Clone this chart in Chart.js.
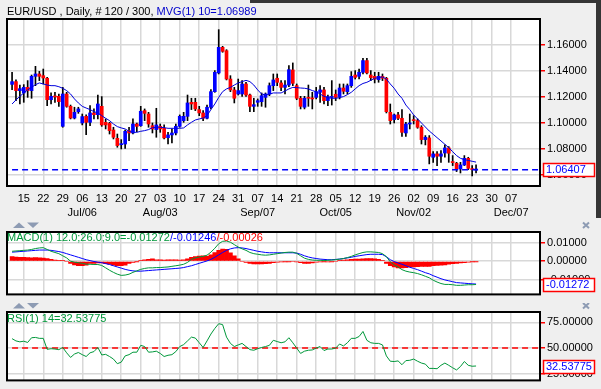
<!DOCTYPE html>
<html>
<head>
<meta charset="utf-8">
<script src="https://cdn.jsdelivr.net/npm/chart.js@4.4.1/dist/chart.umd.min.js"></script>
<style>
html,body{margin:0;padding:0;background:#efefef;}
#wrap{position:relative;width:601px;height:389px;overflow:hidden;background:#efefef;}
#wrap canvas{position:absolute;left:0;}
</style>
</head>
<body>
<div id="wrap">
<canvas id="cPrice" width="601" height="220" style="top:0px;width:601px;height:220px"></canvas>
<canvas id="cMacd" width="601" height="83" style="top:220px;width:601px;height:83px"></canvas>
<canvas id="cRsi" width="601" height="86" style="top:303px;width:601px;height:86px"></canvas>
</div>
<script>
// ---------- DATA ----------
const dayLabels = ['15','22','29','06','13','20','27','03','10','17','24','31','07','14','21','28','05','12','19','26','02','09','16','23','30','07'];
const monthLabels = ['','','','Jul/06','','','','Aug/03','','','','','Sep/07','','','','Oct/05','','','','Nov/02','','','','','Dec/07'];

const opens = [1.1297,1.1318,1.1249,1.1231,1.1274,1.1249,1.1359,1.1377,1.1364,1.1344,
1.1179,1.1205,1.1205,1.0974,1.1223,1.1128,1.1038,1.1087,1.1000,1.1051,
1.1005,1.1077,1.1064,1.1128,1.1005,1.0997,1.0946,1.0882,1.0833,1.0838,
1.0941,1.0923,1.0992,1.0979,1.1095,1.1069,1.0979,1.0949,1.0974,1.0959,
1.0887,1.0908,1.0923,1.0974,1.1018,1.1051,1.1159,1.1159,1.1103,1.1077,
1.1036,1.1121,1.1241,1.1385,1.1582,1.1556,1.1338,1.1254,1.1223,1.1223,
1.1300,1.1215,1.1128,1.1159,1.1164,1.1197,1.1223,1.1287,1.1344,1.1308,
1.1274,1.1292,1.1408,1.1287,1.1190,1.1121,1.1194,1.1190,1.1197,1.1236,
1.1254,1.1172,1.1197,1.1221,1.1203,1.1269,1.1241,1.1287,1.1369,1.1359,
1.1390,1.1480,1.1369,1.1359,1.1333,1.1359,1.1344,1.1082,1.1026,1.1062,
1.1036,1.0923,1.0992,1.1021,1.1018,1.0967,1.0872,1.0885,1.0736,1.0762,
1.0744,1.0769,1.0808,1.0703,1.0690,1.0646,1.0677,1.0728,1.0646,1.0638];

const highs = [1.1390,1.1331,1.1292,1.1295,1.1326,1.1369,1.1436,1.1397,1.1415,1.1351,
1.1231,1.1236,1.1223,1.1274,1.1236,1.1138,1.1121,1.1121,1.1069,1.1062,
1.1133,1.1108,1.1215,1.1203,1.1031,1.1005,1.0967,1.0915,1.0872,1.0946,
1.0967,1.1031,1.1000,1.1128,1.1108,1.1082,1.1000,1.1113,1.0992,1.0985,
1.0928,1.0954,1.0992,1.1062,1.1082,1.1215,1.1190,1.1190,1.1128,1.1095,
1.1138,1.1256,1.1403,1.1718,1.1590,1.1564,1.1364,1.1274,1.1338,1.1326,
1.1313,1.1223,1.1190,1.1185,1.1231,1.1231,1.1308,1.1377,1.1377,1.1326,
1.1326,1.1441,1.1462,1.1300,1.1205,1.1205,1.1292,1.1236,1.1274,1.1287,
1.1274,1.1215,1.1326,1.1254,1.1300,1.1300,1.1300,1.1395,1.1403,1.1415,
1.1497,1.1497,1.1403,1.1390,1.1390,1.1377,1.1351,1.1146,1.1069,1.1082,
1.1103,1.1005,1.1069,1.1056,1.1031,1.0979,1.0903,1.0903,1.0780,1.0780,
1.0787,1.0831,1.0818,1.0749,1.0697,1.0697,1.0749,1.0736,1.0672,1.0677];

const lows = [1.1256,1.1172,1.1146,1.1159,1.1197,1.1190,1.1287,1.1326,1.1300,1.1133,
1.1146,1.1159,1.1128,1.0967,1.1121,1.1031,1.1031,1.1074,1.0985,1.0910,
1.0979,1.1031,1.1031,1.0974,1.0954,1.0915,1.0877,1.0813,1.0800,1.0805,
1.0864,1.0915,1.0933,1.0974,1.1018,1.0967,1.0923,1.0890,1.0928,1.0877,
1.0838,1.0846,1.0908,1.0967,1.1005,1.1018,1.1103,1.1095,1.1056,1.1018,
1.1031,1.1108,1.1236,1.1377,1.1544,1.1331,1.1241,1.1154,1.1215,1.1205,
1.1205,1.1087,1.1087,1.1128,1.1128,1.1121,1.1210,1.1249,1.1287,1.1249,
1.1223,1.1279,1.1287,1.1179,1.1108,1.1108,1.1128,1.1108,1.1185,1.1159,
1.1146,1.1133,1.1138,1.1172,1.1185,1.1223,1.1223,1.1274,1.1338,1.1338,
1.1377,1.1377,1.1326,1.1308,1.1313,1.1326,1.1077,1.0992,1.1000,1.1026,
1.0897,1.0897,1.0954,1.0992,1.0959,1.0838,1.0831,1.0685,1.0697,1.0672,
1.0697,1.0736,1.0697,1.0672,1.0626,1.0615,1.0672,1.0641,1.0592,1.0615];

const closes = [1.1318,1.1249,1.1264,1.1274,1.1249,1.1359,1.1377,1.1359,1.1346,1.1179,
1.1205,1.1200,1.1164,1.1223,1.1128,1.1038,1.1082,1.1108,1.1049,1.1005,
1.1077,1.1064,1.1146,1.0985,1.0985,1.0941,1.0890,1.0826,1.0838,1.0936,
1.0923,1.0992,1.0974,1.1090,1.1074,1.0992,1.0954,1.0985,1.0954,1.0885,
1.0908,1.0923,1.0974,1.1051,1.1051,1.1154,1.1146,1.1108,1.1077,1.1036,
1.1121,1.1241,1.1390,1.1582,1.1551,1.1338,1.1254,1.1190,1.1249,1.1300,
1.1215,1.1128,1.1141,1.1172,1.1210,1.1223,1.1287,1.1331,1.1313,1.1274,
1.1292,1.1410,1.1305,1.1190,1.1128,1.1190,1.1190,1.1185,1.1241,1.1254,
1.1172,1.1203,1.1200,1.1197,1.1269,1.1244,1.1287,1.1359,1.1351,1.1390,
1.1480,1.1385,1.1349,1.1338,1.1359,1.1344,1.1087,1.1018,1.1062,1.1036,
1.0928,1.0992,1.1000,1.1018,1.0967,1.0872,1.0890,1.0744,1.0762,1.0744,
1.0762,1.0808,1.0767,1.0695,1.0646,1.0677,1.0728,1.0651,1.0641,1.06407];

const ma10 = [1.1146,1.1177,1.1205,1.1231,1.1254,1.1274,1.1295,1.1308,1.1300,1.1292,
1.1287,1.1287,1.1279,1.1267,1.1249,1.1223,1.1185,1.1154,1.1128,1.1115,
1.1103,1.1087,1.1077,1.1056,1.1036,1.1018,1.0992,1.0972,1.0962,1.0954,
1.0936,1.0928,1.0928,1.0936,1.0941,1.0949,1.0964,1.0967,1.0967,1.0964,
1.0959,1.0959,1.0959,1.0959,1.0962,1.0985,1.1005,1.1023,1.1031,1.1038,
1.1056,1.1103,1.1146,1.1197,1.1241,1.1262,1.1274,1.1292,1.1308,1.1318,
1.1328,1.1318,1.1292,1.1254,1.1223,1.1215,1.1221,1.1231,1.1231,1.1231,
1.1246,1.1262,1.1274,1.1272,1.1269,1.1267,1.1262,1.1249,1.1241,1.1223,
1.1205,1.1195,1.1190,1.1190,1.1195,1.1203,1.1218,1.1236,1.1262,1.1287,
1.1304,1.1313,1.1328,1.1344,1.1349,1.1354,1.1338,1.1300,1.1267,1.1223,
1.1190,1.1138,1.1103,1.1062,1.1031,1.1000,1.0969,1.0938,1.0913,1.0887,
1.0862,1.0836,1.0810,1.0779,1.0749,1.0728,1.0718,1.0712,1.0705,1.06989];

const macdLine = [0.00543,0.00560,0.00576,0.00593,0.00609,0.00642,0.00691,0.00724,0.00741,0.00642,
0.00543,0.00477,0.00412,0.00296,0.00181,0.00000,-0.00049,-0.00082,-0.00115,-0.00165,
-0.00165,-0.00181,-0.00181,-0.00230,-0.00362,-0.00494,-0.00609,-0.00708,-0.00774,-0.00757,
-0.00708,-0.00609,-0.00527,-0.00444,-0.00395,-0.00362,-0.00362,-0.00346,-0.00346,-0.00329,
-0.00313,-0.00280,-0.00247,-0.00214,-0.00165,-0.00066,0.00099,0.00181,0.00230,0.00263,
0.00329,0.00494,0.00708,0.00955,0.01086,0.01103,0.01037,0.00905,0.00774,0.00675,
0.00593,0.00477,0.00412,0.00379,0.00346,0.00329,0.00346,0.00379,0.00412,0.00444,
0.00477,0.00494,0.00494,0.00428,0.00296,0.00165,0.00099,0.00066,0.00049,0.00049,
0.00033,0.00049,0.00066,0.00082,0.00115,0.00148,0.00198,0.00263,0.00346,0.00412,
0.00477,0.00510,0.00510,0.00494,0.00477,0.00412,0.00247,-0.00033,-0.00198,-0.00313,
-0.00461,-0.00543,-0.00593,-0.00626,-0.00675,-0.00741,-0.00823,-0.00905,-0.01037,-0.01136,
-0.01218,-0.01267,-0.01267,-0.01284,-0.01317,-0.01317,-0.01300,-0.01284,-0.01284,-0.01272];

const signalLine = [0.00494,0.00510,0.00527,0.00543,0.00560,0.00576,0.00593,0.00609,0.00609,0.00609,
0.00593,0.00560,0.00527,0.00477,0.00412,0.00346,0.00280,0.00214,0.00148,0.00082,
0.00033,-0.00016,-0.00049,-0.00082,-0.00132,-0.00181,-0.00247,-0.00313,-0.00379,-0.00444,
-0.00494,-0.00527,-0.00543,-0.00543,-0.00527,-0.00510,-0.00494,-0.00477,-0.00461,-0.00444,
-0.00428,-0.00412,-0.00395,-0.00379,-0.00346,-0.00296,-0.00247,-0.00181,-0.00115,-0.00049,
0.00016,0.00099,0.00214,0.00346,0.00477,0.00593,0.00675,0.00724,0.00741,0.00724,
0.00691,0.00642,0.00593,0.00543,0.00510,0.00477,0.00461,0.00461,0.00461,0.00461,
0.00461,0.00461,0.00461,0.00444,0.00379,0.00296,0.00230,0.00181,0.00148,0.00115,
0.00099,0.00082,0.00082,0.00099,0.00115,0.00148,0.00181,0.00214,0.00263,0.00296,
0.00329,0.00362,0.00379,0.00379,0.00379,0.00362,0.00247,0.00082,-0.00016,-0.00099,
-0.00165,-0.00247,-0.00329,-0.00395,-0.00461,-0.00543,-0.00626,-0.00691,-0.00790,-0.00872,
-0.00955,-0.01021,-0.01070,-0.01119,-0.01169,-0.01185,-0.01202,-0.01218,-0.01235,-0.01246];

const macdHist = [0.00247,0.00230,0.00214,0.00214,0.00198,0.00181,0.00198,0.00181,0.00165,0.00148,
0.00099,0.00066,0.00049,0.00033,0.00000,-0.00115,-0.00198,-0.00247,-0.00247,-0.00214,
-0.00115,-0.00115,-0.00099,-0.00099,-0.00132,-0.00165,-0.00214,-0.00247,-0.00247,-0.00214,
-0.00115,-0.00066,-0.00016,0.00049,0.00082,0.00099,0.00132,0.00082,0.00082,0.00066,
0.00082,0.00082,0.00082,0.00066,0.00082,0.00132,0.00214,0.00247,0.00280,0.00296,
0.00263,0.00346,0.00477,0.00593,0.00658,0.00642,0.00461,0.00296,0.00132,0.00000,
-0.00066,-0.00115,-0.00148,-0.00148,-0.00148,-0.00132,-0.00115,-0.00082,-0.00049,-0.00033,
-0.00016,-0.00016,0.00000,-0.00033,-0.00082,-0.00115,-0.00115,-0.00099,-0.00049,-0.00033,
-0.00016,-0.00033,-0.00016,0.00000,0.00049,0.00066,0.00082,0.00099,0.00115,0.00115,
0.00132,0.00148,0.00148,0.00132,0.00099,0.00049,-0.00115,-0.00247,-0.00313,-0.00362,
-0.00362,-0.00346,-0.00313,-0.00313,-0.00296,-0.00280,-0.00280,-0.00280,-0.00247,-0.00230,
-0.00214,-0.00198,-0.00165,-0.00132,-0.00115,-0.00099,-0.00082,-0.00049,-0.00016,-0.00026];

const rsi14 = [59.2,57.0,56.1,56.7,55.5,60.1,60.4,59.5,59.5,48.8,
49.4,49.1,48.5,50.6,45.4,40.9,44.2,45.7,43.6,41.8,
45.4,46.6,50.6,43.3,43.9,41.8,39.3,34.8,36.3,42.4,
43.6,46.0,46.0,52.7,51.5,46.0,46.3,47.0,44.8,41.8,
43.0,43.6,46.6,51.5,53.4,57.0,60.7,59.8,55.2,50.6,
57.0,63.7,69.2,73.8,72.9,60.7,54.6,51.5,53.1,54.6,
51.5,48.5,47.9,49.4,50.6,51.5,52.7,57.6,56.4,55.2,
56.1,60.1,55.2,50.0,44.8,47.0,47.9,48.2,50.0,51.5,
47.6,49.1,49.1,50.0,54.0,52.1,55.2,59.5,59.5,61.3,
66.2,57.6,55.2,54.6,54.6,53.1,42.4,37.2,36.9,37.5,
33.8,37.8,38.1,39.3,37.2,35.4,34.4,30.2,30.2,29.9,
33.2,35.4,33.2,30.8,28.7,32.0,36.9,33.2,32.3,32.53775];

const priceTicks = [1.06,1.08,1.10,1.12,1.14,1.16];
const macdTicks = [-0.01,0,0.01];
const rsiTicks = [25,50,75];
const rsiLevel = 50;

// ---------- STYLE / LAYOUT ----------
const FONT = "'Liberation Sans', Arial, sans-serif";
const BG = '#efefef', GRID = '#d8d8d8';
const BLUE = '#0000ff', RED = '#ff0000', GREEN = '#00983a';
const X_MIN = -1.3, X_MAX = 135.4;
const tickBars = dayLabels.map((d,k)=>3+5*k);
const last = closes.length-1;
const idx = closes.map((c,i)=>i);

Chart.defaults.font.family = FONT;
Chart.defaults.font.size = 11;
Chart.defaults.color = '#000';

function xScale(showLabels, h){
  return {
    type:'linear', min:X_MIN, max:X_MAX, offset:false,
    afterBuildTicks:s=>{ s.ticks = tickBars.map(v=>({value:v})); },
    afterFit:s=>{ s.height = h; },
    grid:{color:GRID, lineWidth:1.5, drawTicks:false, offset:false},
    border:{display:false},
    ticks:{display:showLabels, autoSkip:false, maxRotation:0, minRotation:0, padding:5, color:'#000',
      font:{family:FONT, size:11, lineHeight:1.36},
      callback:(v,i)=>[dayLabels[i], monthLabels[i]]}
  };
}
function yScale(min,max,ticks,fmt){
  return {
    position:'right', min:min, max:max,
    afterBuildTicks:s=>{ s.ticks = ticks.map(v=>({value:v})); },
    afterFit:s=>{ s.width = 61; },
    grid:{color:GRID, lineWidth:1.5, tickColor:RED, tickLength:5, tickWidth:1.5, drawTicks:true},
    border:{display:false},
    ticks:{padding:2, color:'#000', font:{family:FONT, size:11}, callback:fmt}
  };
}

const framePlugin = {
  id:'frame',
  beforeDraw(chart){
    const {ctx, chartArea:a} = chart;
    ctx.save();
    ctx.fillStyle = BG; ctx.fillRect(0,0,chart.width,chart.height);
    ctx.fillStyle = '#fff'; ctx.fillRect(a.left,a.top,a.right-a.left,a.bottom-a.top);
    ctx.restore();
  },
  afterDatasetsDraw(chart){
    const {ctx, chartArea:a} = chart;
    ctx.save(); ctx.strokeStyle='#000'; ctx.lineWidth=2;
    ctx.strokeRect(a.left, a.top, a.right-a.left, a.bottom-a.top);
    ctx.restore();
  }
};

function valueBox(chart, val, text){
  const ctx = chart.ctx, y = chart.scales.y.getPixelForValue(val), x = chart.chartArea.right + 3;
  const top = Math.round(y - 6.5);
  ctx.save();
  ctx.fillStyle = '#fff'; ctx.fillRect(x, top, 51, 13);
  ctx.strokeStyle = RED; ctx.lineWidth = 1.5; ctx.strokeRect(x+0.5, top+0.5, 51, 13);
  ctx.fillStyle = BLUE; ctx.font = '11px ' + FONT; ctx.textBaseline = 'middle'; ctx.textAlign='left';
  ctx.fillText(text, x + 3, top + 7);
  ctx.restore();
}
function drawParts(ctx, x, y, parts){
  ctx.save(); ctx.font = '11px ' + FONT; ctx.textBaseline='middle'; ctx.textAlign='left';
  parts.forEach(p=>{ ctx.fillStyle = p[1]; ctx.fillText(p[0], x, y); x += ctx.measureText(p[0]).width; });
  ctx.restore();
}
function drawArrows(ctx, y){
  ctx.save(); ctx.fillStyle = '#8d9bb3';
  ctx.beginPath(); ctx.moveTo(13,y+5.5); ctx.lineTo(19,y); ctx.lineTo(25,y+5.5); ctx.closePath(); ctx.fill();
  ctx.beginPath(); ctx.moveTo(27,y); ctx.lineTo(39,y); ctx.lineTo(33,y+5.5); ctx.closePath(); ctx.fill();
  ctx.strokeStyle = '#8d9bb3'; ctx.lineWidth = 2;
  ctx.beginPath(); ctx.moveTo(583,y); ctx.lineTo(589,y+5.5); ctx.moveTo(589,y); ctx.lineTo(583,y+5.5); ctx.stroke();
  ctx.restore();
}

const common = {responsive:false, animation:false, events:[], plugins:{legend:{display:false}, tooltip:{enabled:false}}};

// ---------- PRICE ----------
new Chart(document.getElementById('cPrice'), {
  type:'bar',
  data:{datasets:[
    {type:'line', data:idx.map(i=>({x:i,y:ma10[i]})), borderColor:'#0000dd', borderWidth:1, pointRadius:0, tension:0, order:0},
    {type:'line', data:[{x:0,y:closes[last]},{x:X_MAX,y:closes[last]}], borderColor:BLUE, borderWidth:1.5, borderDash:[6,4], pointRadius:0, order:1},
    {type:'bar', data:idx.map(i=>({x:i,y:[opens[i],closes[i]]})), backgroundColor:idx.map(i=>closes[i]>=opens[i]?BLUE:RED),
      barThickness:3, minBarLength:1, grouped:false, order:2},
    {type:'bar', data:idx.map(i=>({x:i,y:[lows[i],highs[i]]})), backgroundColor:'#000', barThickness:1, grouped:false, order:3}
  ]},
  options:Object.assign({}, common, {
    layout:{padding:{left:7, top:19, right:0, bottom:0}},
    scales:{ x:xScale(true, 34), y:yScale(1.0515, 1.18, priceTicks, v=>v.toFixed(5)) }
  }),
  plugins:[framePlugin, {id:'ptxt', afterDraw(chart){
    const ctx = chart.ctx;
    ctx.save(); ctx.fillStyle = '#353535';
    ctx.fillRect(250, 0, 351, 3);
    ctx.fillRect(596, 0, 5, 218);
    ctx.restore();
    drawParts(ctx, 7, 12, [['EUR/USD , Daily, # 120 / 300, ','#000'],['MVG(1) 10='+ma10[last].toFixed(5), '#0000cc']]);
    valueBox(chart, closes[last], closes[last].toFixed(5));
  }}]
});

// ---------- MACD ----------
new Chart(document.getElementById('cMacd'), {
  type:'bar',
  data:{datasets:[
    {type:'line', data:idx.map(i=>({x:i,y:macdLine[i]})), borderColor:GREEN, borderWidth:1, pointRadius:0, tension:0, order:0},
    {type:'line', data:idx.map(i=>({x:i,y:signalLine[i]})), borderColor:BLUE, borderWidth:1, pointRadius:0, tension:0, order:1},
    {type:'bar', data:idx.map(i=>({x:i,y:macdHist[i]})), backgroundColor:RED, barThickness:4, grouped:false, order:2}
  ]},
  options:Object.assign({}, common, {
    layout:{padding:{left:7, top:12, right:0, bottom:0}},
    scales:{ x:xScale(false, 2), y:yScale(-0.01812, 0.01595, macdTicks, v=>v.toFixed(5)) }
  }),
  plugins:[framePlugin, {id:'mtxt', afterDraw(chart){
    drawParts(chart.ctx, 7, 18, [['MACD(1) 12.0;26.0;9.0='+macdLine[last].toFixed(5), GREEN],['/'+signalLine[last].toFixed(5), BLUE],['/'+macdHist[last].toFixed(5), RED]]);
    valueBox(chart, macdLine[last], macdLine[last].toFixed(5));
    drawArrows(chart.ctx, 2.5);
  }}]
});

// ---------- RSI ----------
new Chart(document.getElementById('cRsi'), {
  type:'line',
  data:{datasets:[
    {data:idx.map(i=>({x:i,y:rsi14[i]})), borderColor:GREEN, borderWidth:1, pointRadius:0, tension:0, order:0},
    {data:[{x:0,y:rsiLevel},{x:X_MAX,y:rsiLevel}], borderColor:RED, borderWidth:1.5, borderDash:[6,4], pointRadius:0, order:1}
  ]},
  options:Object.assign({}, common, {
    layout:{padding:{left:7, top:9, right:0, bottom:0}},
    scales:{ x:xScale(false, 5), y:yScale(18.5, 85.2, rsiTicks, v=>v.toFixed(5)) }
  }),
  plugins:[framePlugin, {id:'rtxt', afterDraw(chart){
    drawParts(chart.ctx, 7, 16, [['RSI(1) 14='+rsi14[last].toFixed(5), GREEN]]);
    valueBox(chart, rsi14[last], rsi14[last].toFixed(5));
    drawArrows(chart.ctx, 0);
  }}]
});
</script>
</body>
</html>
